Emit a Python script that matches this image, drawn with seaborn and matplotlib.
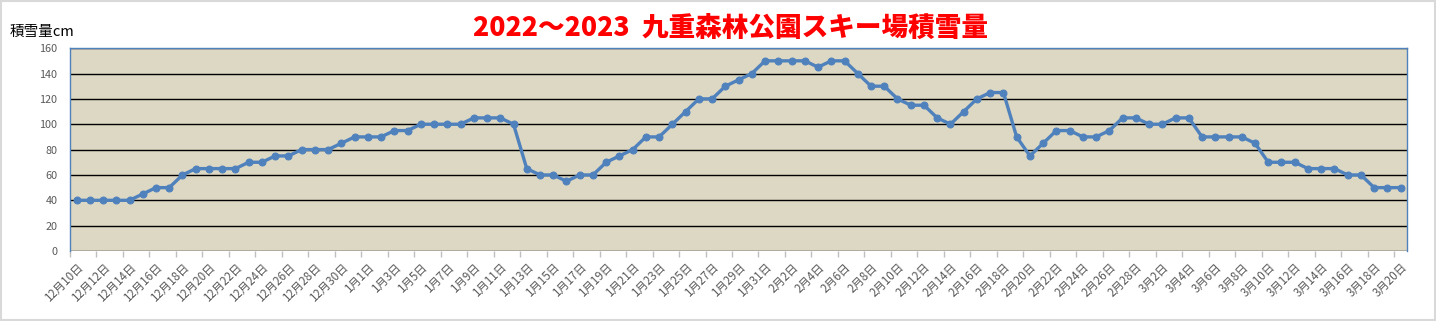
import matplotlib
matplotlib.use("Agg")
import matplotlib.pyplot as plt
import seaborn as sns
import pandas as pd
import numpy as np
import datetime as dt

dec = [40, 40, 40, 40, 40, 45, 50, 50, 60, 65, 65, 65, 65, 70, 70, 75, 75, 80, 80, 80, 85, 90]
jan = [90, 90, 95, 95, 100, 100, 100, 100, 105, 105, 105, 100, 65, 60, 60, 55, 60, 60, 70, 75,
       80, 90, 90, 100, 110, 120, 120, 130, 135, 140, 150]
feb = [150, 150, 150, 145, 150, 150, 140, 130, 130, 120, 115, 115, 105, 100, 110, 120, 125, 125,
       90, 75, 85, 95, 95, 90, 90, 95, 105, 105]
mar = [100, 100, 105, 105, 90, 90, 90, 90, 85, 70, 70, 70, 65, 65, 65, 60, 60, 50, 50, 50]

snow = dec + jan + feb + mar
start = dt.date(2022, 12, 10)
dates = [start + dt.timedelta(days=i) for i in range(len(snow))]
labels = [f"{d.month}月{d.day}日" for d in dates]

df = pd.DataFrame({"idx": np.arange(len(snow)), "snow": snow, "label": labels})

sns.set_theme(style="white")
plt.rcParams['font.family'] = ['Noto Sans CJK JP', 'DejaVu Sans']

fig = plt.figure(figsize=(14.36, 3.21), dpi=100)
fig.patch.set_facecolor("white")
ax = fig.add_axes([0.0487, 0.218, 0.9313, 0.632])
ax.set_facecolor("#DDD8C3")

sns.lineplot(data=df, x="idx", y="snow", ax=ax, color="#4F81BD", linewidth=2.4,
             marker="o", markersize=5, markeredgecolor="#4F81BD", zorder=3)

ax.set_xlim(-0.5, len(snow) - 0.5)
ax.set_ylim(0, 160)
ax.set_yticks(range(0, 161, 20))
ax.yaxis.grid(True, color="black", linewidth=1.0)
ax.xaxis.grid(False)
ax.set_axisbelow(True)

ax.set_xticks(df["idx"][::2])
ax.set_xticklabels(df["label"][::2], rotation=45, ha="right", rotation_mode="anchor",
                   fontsize=8.3, color="#595959")
ax.set_xticks(np.arange(-0.5, len(snow), 2), minor=True)
ax.tick_params(axis="x", which="major", length=0, pad=7)
ax.tick_params(axis="x", which="minor", length=4, color="#BFBFBF", bottom=True)
ax.tick_params(axis="y", length=0, labelsize=7.8, labelcolor="#595959", pad=9)
ax.set_xlabel("")
ax.set_ylabel("")

for s in ["left", "top", "right"]:
    ax.spines[s].set_color("#4F81BD")
    ax.spines[s].set_linewidth(1.0)
ax.spines["bottom"].set_visible(False)

fig.text(0.007, 0.9, "積雪量cm", fontsize=10.5, color="black", ha="left", va="center")
fig.text(0.5085, 0.915, "2022～2023  九重森林公園スキー場積雪量", fontsize=19.2, color="#FF0000",
         fontweight="heavy", ha="center", va="center")

border = plt.Rectangle((0.001, 0.003), 0.998, 0.994, transform=fig.transFigure,
                       fill=False, edgecolor="#D9D9D9", linewidth=1.5)
fig.patches.append(border)

fig.savefig("out.png", dpi=100)
